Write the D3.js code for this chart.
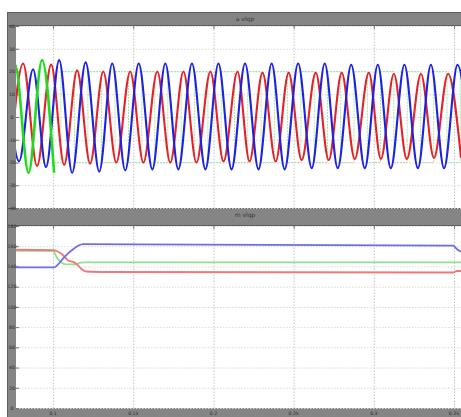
<!DOCTYPE html>
<html><head><meta charset="utf-8">
<script src="https://cdn.jsdelivr.net/npm/d3@7/dist/d3.min.js"></script>
<style>body{margin:0;background:#fff}svg{display:block}</style>
</head><body>
<svg id="c" width="461" height="417"></svg>
<script>
// ---------- data ----------
const topTitle = "a vlqp";
const bottomTitle = "m vlqp";
const xTicks = [0.1, 0.15, 0.2, 0.25, 0.3, 0.35];
const xTickLabels = ["0.1", "0.15", "0.2", "0.25", "0.3", "0.35"];
const topYTicks = [40, 30, 20, 10, 0, -10, -20, -30, -40];
const bottomYTicks = [180, 160, 140, 120, 100, 80, 60, 40, 20, 0];

// top panel: extrema of each waveform (time s, value)
const redT = [0.0731,0.0813,0.09,0.0988,0.1069,0.115,0.1231,0.1313,0.1394,0.1481,0.1563,0.165,0.1731,0.1813,0.1894,0.1981,0.2063,0.215,0.2225,0.2306,0.2388,0.2469,0.255,0.2638,0.2719,0.28,0.2881,0.2969,0.3044,0.3125,0.3206,0.3294,0.3375,0.3463,0.3544];
const redV = [-20,23.5,-21.5,23,-21,20.5,-20.5,20,-20,20,-20,20,-20,20,-20,20,-19.5,20,-19.5,19.5,-19.5,19.5,-19,19.5,-19,19.5,-18.5,19.5,-18.5,19,-18.5,19,-18,19,-18];
const blueT = [0.0706,0.0788,0.0875,0.0956,0.1038,0.1119,0.1203,0.1288,0.1369,0.145,0.1534,0.1619,0.17,0.1781,0.1866,0.195,0.2031,0.2113,0.2197,0.2281,0.2363,0.2444,0.2528,0.2613,0.2694,0.2775,0.2859,0.2944,0.3025,0.3106,0.3191,0.3275,0.3356,0.3438,0.3522,0.3606];
const blueV = [21,-19.5,21,-22,25,-24.5,24,-24,23.5,-23.5,23.5,-23,23.5,-23,23.5,-23,23.5,-23,23.5,-23,23.5,-23,23.5,-22.5,23.5,-22.5,23,-22.5,23,-22.5,23,-22.5,23,-22.5,23,-22.5];
const greenStartT = [0.0681,0.0763,0.0847,0.0931,0.1006];
const greenStartV = [-23,23,-24.5,25,-24.5];
const greenRefT = [0.1006,0.1091,0.1175,0.1259,0.1344,0.1428,0.1513,0.1594,0.1675,0.1756,0.1841,0.1925,0.2006,0.2091,0.2172,0.2256,0.2338,0.2422,0.2503,0.2588,0.2669,0.2753,0.2834,0.2919,0.3,0.3084,0.3166,0.325,0.3331,0.3416,0.3497,0.3581];
const greenRefV = [-20,20,-20,20,-20,20,-20,20,-20,20,-20,20,-20,20,-20,20,-20,20,-20,20,-20,20,-20,20,-20,20,-20,20,-20,20,-20,20];

// bottom panel: slow quantities
const mRedT = [0.0769,0.1,0.1025,0.1056,0.1094,0.1131,0.1156,0.1181,0.1206,0.1294,0.3494,0.3519,0.355];
const mRedV = [156.5,156,155,152,146,144,141,137,135,134.5,134,135.5,135.5];
const mGreenT = [0.0769,0.1,0.1013,0.1031,0.1056,0.1081,0.1138,0.1163,0.1188,0.3494,0.355];
const mGreenV = [155.5,155.5,152,147,143.5,142,142,143.5,144,144,144];
const mBlueT = [0.0769,0.1006,0.1031,0.1063,0.1094,0.1125,0.1156,0.1188,0.1919,0.3494,0.3519,0.355];
const mBlueV = [139,139,142,148,153,157,160.5,162,161.5,160.5,157,154];

// ---------- drawing ----------
const svg = d3.select("#c");
const W = 461, H = 417;
const L = 16, R = 461;
const gray = "#858585", grayDark = "#5e5e5e";
const topP = {y0: 26, y1: 208, tb0: 12};
const botP = {y0: 226, y1: 408, tb0: 208};

const x = d3.scaleLinear().domain([0.076875, 0.353125]).range([L, R - 2]);
const yTop = d3.scaleLinear().domain([-40, 40]).range([topP.y1, topP.y0]);
const yBot = d3.scaleLinear().domain([0, 180]).range([botP.y1, botP.y0]);

// gray frame
svg.append("rect").attr("x", 7).attr("y", 12).attr("width", W - 7).attr("height", H - 12).attr("fill", gray);
[topP, botP].forEach(p => {
  svg.append("line").attr("x1", 7).attr("x2", W).attr("y1", p.tb0 + 0.5).attr("y2", p.tb0 + 0.5).attr("stroke", grayDark);
  svg.append("line").attr("x1", 7).attr("x2", W).attr("y1", p.y0 - 0.5).attr("y2", p.y0 - 0.5).attr("stroke", grayDark);
  svg.append("rect").attr("x", L).attr("y", p.y0).attr("width", R - L).attr("height", p.y1 - p.y0).attr("fill", "#fff");
});
svg.append("line").attr("x1", 7.5).attr("x2", 7.5).attr("y1", 12).attr("y2", H).attr("stroke", grayDark);

const defs = svg.append("defs");
function clip(id, p) {
  defs.append("clipPath").attr("id", id).append("rect")
    .attr("x", L).attr("y", p.y0).attr("width", R - L).attr("height", p.y1 - p.y0);
}
clip("ct", topP); clip("cb", botP);

function panel(p, y, yTicks, title, clipId) {
  const g = svg.append("g");
  g.append("g").attr("transform", `translate(0,${p.y1})`)
    .call(d3.axisBottom(x).tickValues(xTicks).tickSize(-(p.y1 - p.y0)).tickFormat(""))
    .call(a => a.select(".domain").remove())
    .call(a => a.selectAll("line").attr("stroke", "#c4c4c4").attr("stroke-dasharray", "1.5,1.5"));
  g.append("g").attr("transform", `translate(${L},0)`)
    .call(d3.axisLeft(y).tickValues(yTicks).tickSize(-(R - L)).tickFormat(""))
    .call(a => a.select(".domain").remove())
    .call(a => a.selectAll("line").attr("stroke", "#d9d9d9").attr("stroke-dasharray", "1.5,1.5"));
  g.append("g").attr("transform", `translate(${L},0)`)
    .call(d3.axisRight(y).tickValues(yTicks).tickSize(3).tickFormat(""))
    .call(a => a.select(".domain").remove())
    .call(a => a.selectAll("line").attr("stroke", "#777"));
  g.append("g").attr("transform", `translate(0,${p.y0})`)
    .call(d3.axisBottom(x).tickValues(xTicks).tickSize(3).tickFormat(""))
    .call(a => a.select(".domain").remove())
    .call(a => a.selectAll("line").attr("stroke", "#777"));
  g.selectAll(null).data(yTicks).enter().append("text")
    .attr("x", 12).attr("y", d => y(d) + 1.8).attr("text-anchor", "middle")
    .attr("font-family", "DejaVu Sans, sans-serif").attr("font-size", 4.6).attr("fill", "#2a2a2a")
    .text(d => d);
  svg.append("text").attr("x", 245).attr("y", p.tb0 + 9).attr("text-anchor", "middle")
    .attr("font-family", "DejaVu Sans, sans-serif").attr("font-size", 6).attr("fill", "#333")
    .text(title);
  return svg.append("g").attr("clip-path", `url(#${clipId})`);
}

const gt = panel(topP, yTop, topYTicks, topTitle, "ct");
const gb = panel(botP, yBot, bottomYTicks, bottomTitle, "cb");

svg.selectAll(null).data(xTicks).enter().append("text")
  .attr("x", d => x(d)).attr("y", 414.5).attr("text-anchor", "middle")
  .attr("font-family", "DejaVu Sans, sans-serif").attr("font-size", 4.6).attr("fill", "#2a2a2a")
  .text((d, i) => xTickLabels[i]);

function draw(g, ts, vs, y, color, w, curve, dash) {
  const pts = ts.map((t, i) => [t, vs[i]]);
  const line = d3.line().x(d => x(d[0])).y(d => y(d[1])).curve(curve);
  const p = g.append("path").attr("d", line(pts)).attr("fill", "none")
    .attr("stroke", color).attr("stroke-width", w).attr("stroke-linejoin", "round");
  if (dash) p.attr("stroke-dasharray", dash);
}

// top
draw(gt, greenRefT, greenRefV, yTop, "#a4e8a4", 1, d3.curveStep, "2,1");
draw(gt, redT, redV, yTop, "#e3232a", 2.1, d3.curveMonotoneX);
draw(gt, blueT, blueV, yTop, "#1b22e0", 2.1, d3.curveMonotoneX);
draw(gt, greenStartT, greenStartV, yTop, "#1fdc1f", 2.6, d3.curveMonotoneX);

// bottom
draw(gb, mGreenT, mGreenV, yBot, "#8fe08f", 1.8, d3.curveMonotoneX);
draw(gb, mRedT, mRedV, yBot, "#f07878", 1.8, d3.curveMonotoneX);
draw(gb, mBlueT, mBlueV, yBot, "#6d6ee6", 1.8, d3.curveMonotoneX);
</script>
</body></html>
